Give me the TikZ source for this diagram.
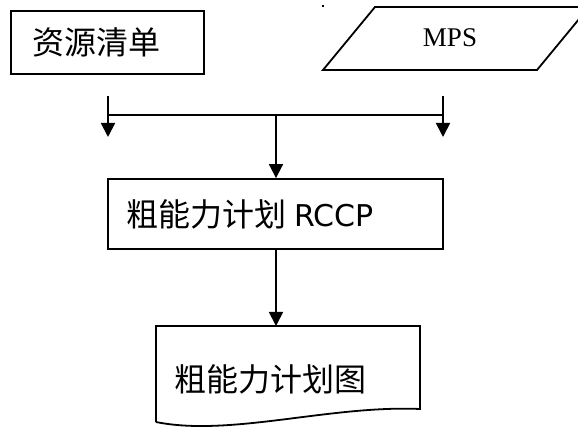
\documentclass[tikz,border=0pt]{standalone}
\usepackage{fontspec}
\setmainfont{DejaVu Sans}
\newfontfamily\cjk{Noto Sans CJK SC}
\newfontfamily\serifmps{Liberation Serif}
\usetikzlibrary{arrows.meta}
\tikzset{
  ln/.style={line width=1.8pt, black},
  arr/.style={ln, -{Triangle[length=14pt,width=14pt]}},
  boxnode/.style={draw, ln, rectangle, align=left, inner ysep=0pt},
  big/.style={font=\fontsize{32pt}{36pt}\selectfont},
}
\begin{document}
\begin{tikzpicture}[x=1pt,y=-1pt]
\useasboundingbox[fill=white] (0,0) rectangle (578,427);
\begin{scope}
\clip (0,0) rectangle (578,427);
% box 1
\node[boxnode, big, minimum width=193pt, minimum height=63pt, text width=151pt, inner xsep=21pt] (ziyuan) at (107.5,42.5) {\cjk 资源清单};
% parallelogram MPS
\coordinate (p1) at (323,70);
\coordinate (p2) at (375,7);
\coordinate (p3) at (589,7);
\coordinate (p4) at (537,70);
\draw[ln, line join=miter] (p1) -- (p2) -- (p3) -- (p4) -- cycle;
\node[font=\fontsize{27pt}{32pt}\selectfont\serifmps] (mps) at (450,38) {MPS};
\fill (322,5) rectangle (324,7);
% connectors
\coordinate (lt) at (108,96);
\coordinate (lb) at (108,137);
\coordinate (rt) at (443,96);
\coordinate (rb) at (443,137);
\coordinate (jl) at (108,115);
\coordinate (jr) at (443,115);
\coordinate (jc) at (276,115);
\draw[arr] (lt) -- (lb);
\draw[arr] (rt) -- (rb);
\draw[ln] (jl) -- (jr);
% RCCP box
\node[boxnode, big, minimum width=335pt, minimum height=70pt, text width=299pt, inner xsep=18pt] (rccp) at (275.5,214) {\raisebox{2pt}{{\cjk 粗能力计划}\hspace{0.25em}\fontsize{30pt}{34pt}\selectfont RCCP}};
\draw[arr] (jc) -- (jc |- rccp.north);
% document
\coordinate (d1) at (156,326);
\coordinate (d2) at (420,326);
\coordinate (d3) at (420,409);
\coordinate (d4) at (156,422);
\draw[ln, line join=miter] (d4) -- (d1) -- (d2) -- (d3) .. controls (330,405) and (230,437) .. (d4);
\node[big] (doctext) at (270,379) {\cjk 粗能力计划图};
\draw[arr] (rccp.south -| jc) -- (jc |- d1);
\end{scope}
\end{tikzpicture}
\end{document}
